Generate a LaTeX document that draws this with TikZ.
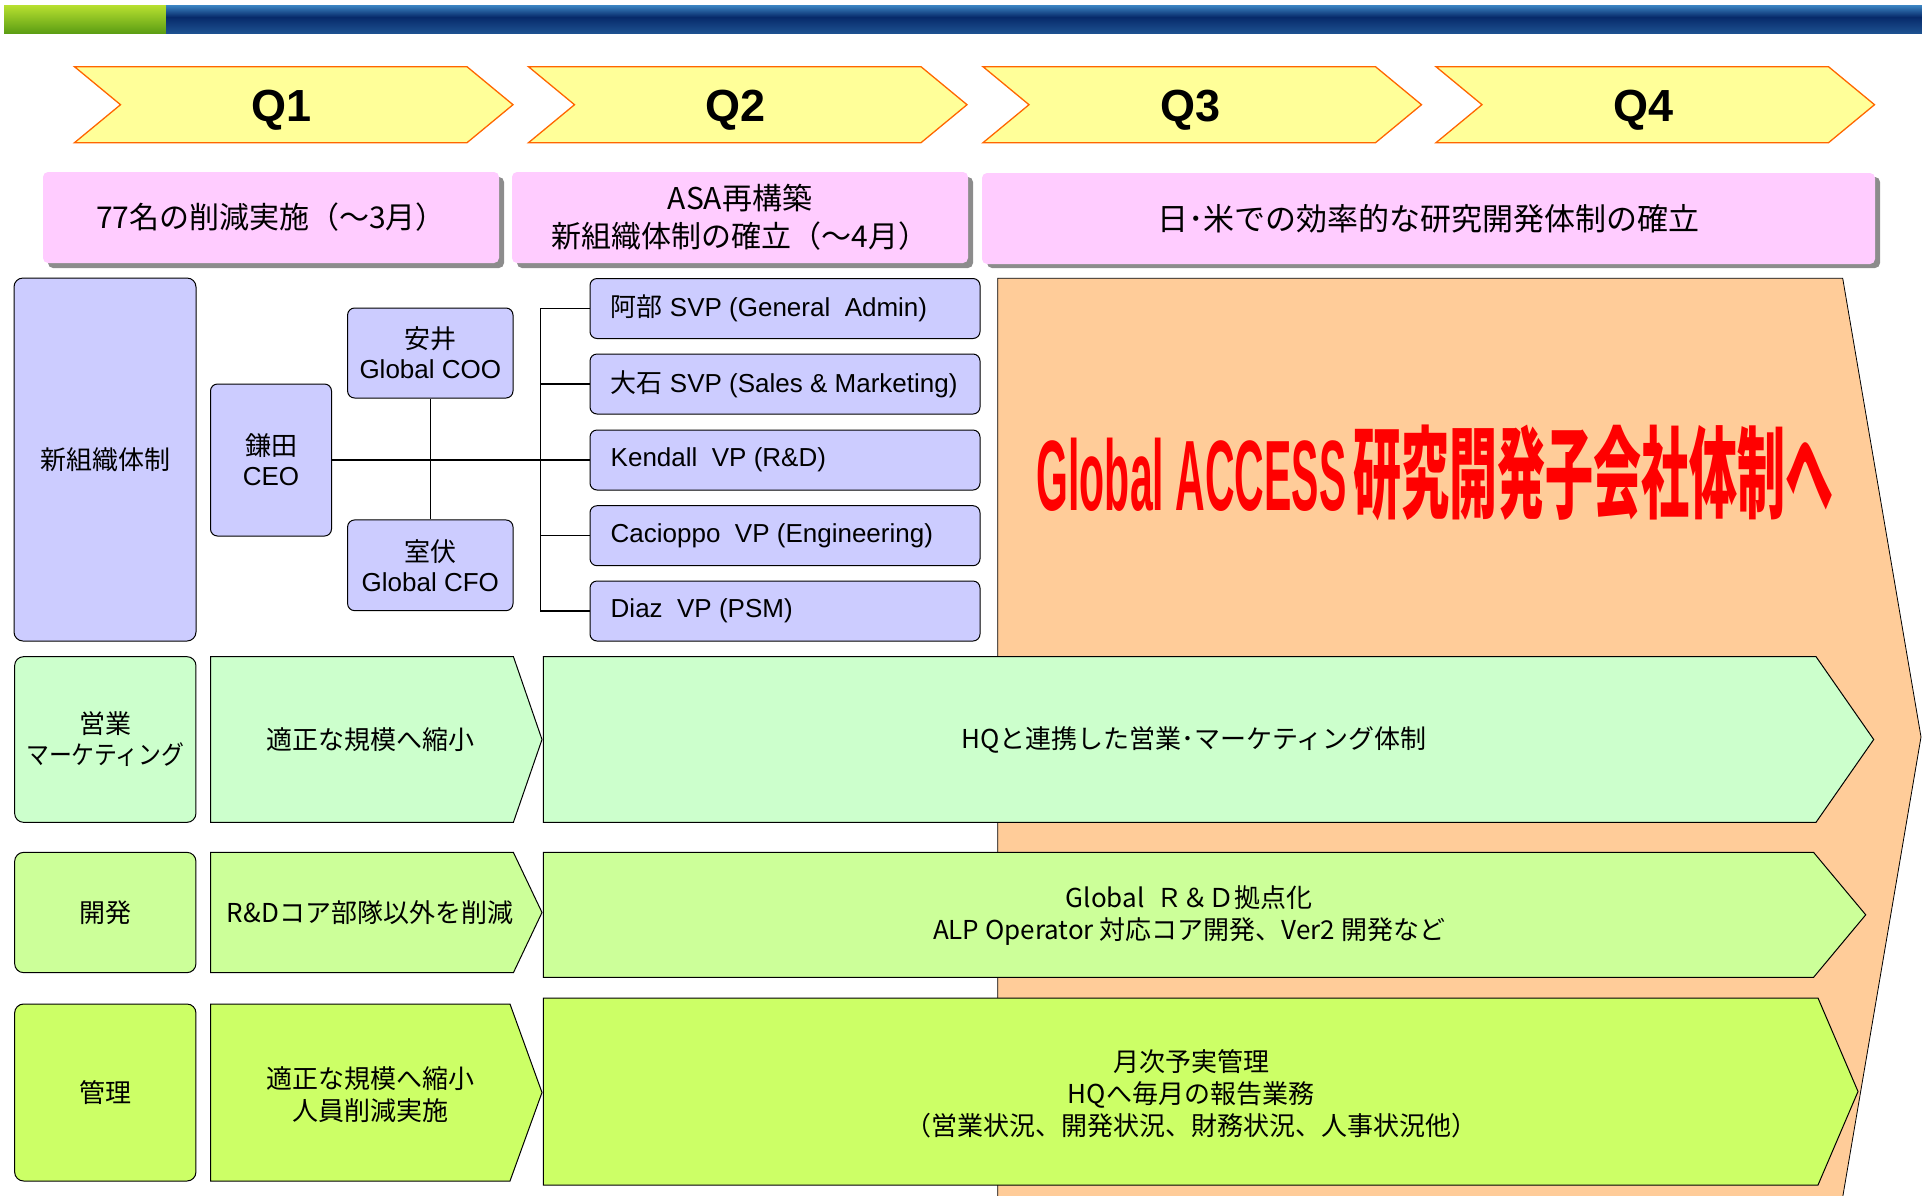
\documentclass[tikz,border=0pt]{standalone}
\usepackage{fontspec}
\usepackage{graphicx}
\setmainfont{Liberation Sans}
\newfontfamily\J{Noto Sans CJK JP}
\definecolor{qyellow}{HTML}{FFFF99}
\definecolor{qorange}{HTML}{FF6600}
\definecolor{pinkc}{HTML}{FFCCFF}
\definecolor{shadowc}{HTML}{8C8C8C}
\definecolor{lav}{HTML}{CCCCFF}
\definecolor{gA}{HTML}{CCFFCC}
\definecolor{gB}{HTML}{CCFF99}
\definecolor{gC}{HTML}{CCFF66}
\definecolor{orangec}{HTML}{FFCC99}
\definecolor{barg1}{HTML}{B8E030}
\definecolor{barg2}{HTML}{5C9E14}
\definecolor{barb1}{HTML}{3C86C4}
\definecolor{barb2}{HTML}{072A6A}
\definecolor{barb3}{HTML}{1D5190}
\newcommand\qchevron[3]{%
  \draw[qchev] (#1,66.7) -- (#1+392.5,66.7) -- (#1+438.5,104.7) -- (#1+392.5,142.7) -- (#1,142.7) -- (#1+46,104.7) -- cycle;
  \node[qlabel] (#2) at (#1+207,110) {#3};}
\begin{document}
\begin{tikzpicture}[x=1pt,y=-1pt,
  qchev/.style={fill=qyellow, draw=qorange, line width=1.3pt, line join=miter},
  qlabel/.style={font=\bfseries\fontsize{45}{50}\selectfont, inner sep=0pt},
  pinkbox/.style={fill=pinkc, rounded corners=5pt, inner sep=0pt, align=center, font={\J\fontsize{30}{38}\selectfont}},
  shadowbox/.style={fill=shadowc, rounded corners=5pt},
  labelbox/.style={draw=black, line width=1pt, rounded corners=9pt, inner sep=0pt, align=center, font={\J\fontsize{26}{31}\selectfont}},
  orgbox/.style={draw=black, line width=1pt, rounded corners=7pt, fill=lav, inner sep=0pt, align=center, font=\fontsize{26}{30}\selectfont},
  vpbox/.style={orgbox, minimum width=390pt, minimum height=60pt},
  vptext/.style={anchor=west, inner sep=0pt, font=\fontsize{26}{30}\selectfont},
  arrowshape/.style={draw=black, line width=1pt, line join=miter},
  lowtext/.style={inner sep=0pt, align=center, font={\J\fontsize{26}{32}\selectfont}},
  conn/.style={draw=black, line width=1.1pt}]
\useasboundingbox (0,0) rectangle (1922,1195);
\clip (0,0) rectangle (1922,1195);
% top bar
\shade[top color=barg1, bottom color=barg2] (4,5) rectangle (166,33);
\shade[top color=barb1, bottom color=barb2] (166,5) rectangle (1922,17);
\shade[top color=barb2, bottom color=barb3] (166,17) rectangle (1922,33);
% quarter chevrons
\qchevron{74.5}{q1}{Q1}
\qchevron{528.5}{q2}{Q2}
\qchevron{983}{q3}{Q3}
\qchevron{1436}{q4}{Q4}
% pink boxes with shadows
\fill[shadowbox] (48,177) rectangle (504,268);
\fill[shadowbox] (517,177) rectangle (973,268);
\fill[shadowbox] (987,177) rectangle (1880,268);
\node[pinkbox, minimum width=456pt, minimum height=91pt] (p1) at (271,217.5) {77名の削減実施（～3月）};
\node[pinkbox, minimum width=456pt, minimum height=91pt] (p2) at (740,217.5) {ASA再構築\\新組織体制の確立（～4月）};
\node[pinkbox, minimum width=893pt, minimum height=91pt, font={\J\fontsize{31}{38}\selectfont}] (p3) at (1428.5,218.5) {日･米での効率的な研究開発体制の確立};
% orange target shape
\draw[fill=orangec, draw=black, line width=0.8pt, line join=miter] (997.7,278.3) -- (1842.7,278.3) -- (1921,737) -- (1842.7,1197) -- (997.7,1197) -- cycle;
\node[anchor=base, text=red, inner sep=0pt] (gt) at (1435,510) {\fontsize{100}{100}\selectfont\bfseries\scalebox{0.41}[1]{Global ACCESS}\hspace{7pt}\scalebox{0.48}[1]{\J\bfseries 研究開発子会社体制へ}};
% organisation
\node[labelbox, fill=lav, minimum width=182pt, minimum height=363pt] (org) at (105,459.5) {新組織体制};
\node[orgbox, minimum width=121pt, minimum height=152pt] (ceo) at (271,460) {{\J 鎌田}\\CEO};
\node[orgbox, minimum width=165.4pt, minimum height=90pt] (coo) at (430.3,353) {{\J 安井}\\Global COO};
\node[orgbox, minimum width=165.4pt, minimum height=90.7pt] (cfo) at (430.3,565.3) {{\J 室伏}\\Global CFO};
\node[vpbox] (vp1) at (785,308.5) {};
\node[vpbox] (vp2) at (785,384) {};
\node[vpbox] (vp3) at (785,460) {};
\node[vpbox] (vp4) at (785,535.7) {};
\node[vpbox] (vp5) at (785,611) {};
\node[vptext] (vp1t) at ([xshift=21pt]vp1.west) {{\J 阿部} SVP (General\ \ Admin)};
\node[vptext] (vp2t) at ([xshift=21pt]vp2.west) {{\J 大石} SVP (Sales \& Marketing)};
\node[vptext] (vp3t) at ([xshift=21pt]vp3.west) {Kendall\ \ VP (R\&D)};
\node[vptext] (vp4t) at ([xshift=21pt]vp4.west) {Cacioppo\ \ VP (Engineering)};
\node[vptext] (vp5t) at ([xshift=21pt]vp5.west) {Diaz\ \ VP (PSM)};
\draw[conn] (ceo.east) -- (vp3.west);
\draw[conn] (coo.south) -- (cfo.north);
\draw[conn] (vp1.west) -- ++(-49,0) |- (vp5.west);
\draw[conn] (vp2.west) -- ++(-49,0);
\draw[conn] (vp4.west) -- ++(-49,0);
% row 1: sales & marketing
\node[labelbox, fill=gA, minimum width=181.3pt, minimum height=165.7pt] (l1) at (105.3,739.5) {営業\\\scalebox{0.88}[1]{マーケティング}};
\draw[arrowshape, fill=gA] (210.5,656.6) -- (513.4,656.6) -- (542,739.5) -- (513.4,822.3) -- (210.5,822.3) -- cycle;
\node[lowtext] (m1) at (370,740) {適正な規模へ縮小};
\draw[arrowshape, fill=gA] (543.4,656.6) -- (1816,656.6) -- (1873.7,739.5) -- (1816,822.3) -- (543.4,822.3) -- cycle;
\node[lowtext] (b1) at (1194,739.5) {HQと連携した営業･マーケティング体制};
% row 2: development
\node[labelbox, fill=gB, minimum width=181.3pt, minimum height=120.3pt] (l2) at (105.3,912.5) {開発};
\draw[arrowshape, fill=gB] (210.5,852.4) -- (513.4,852.4) -- (542,912.5) -- (513.4,972.7) -- (210.5,972.7) -- cycle;
\node[lowtext] (m2) at (370,913) {R\&Dコア部隊以外を削減};
\draw[arrowshape, fill=gB] (543.4,852.4) -- (1813.6,852.4) -- (1865.7,914.8) -- (1813.6,977.3) -- (543.4,977.3) -- cycle;
\node[lowtext] (b2) at (1189,916) {Global\ \ {\J Ｒ＆Ｄ拠点化}\\ALP Operator {\J 対応コア開発、}Ver2 {\J 開発など}};
% row 3: administration
\node[labelbox, fill=gC, minimum width=181.3pt, minimum height=177pt] (l3) at (105.3,1092.5) {管理};
\draw[arrowshape, fill=gC] (210.5,1004) -- (510,1004) -- (542,1092.5) -- (510,1181) -- (210.5,1181) -- cycle;
\node[lowtext] (m3) at (370,1095) {適正な規模へ縮小\\人員削減実施};
\draw[arrowshape, fill=gC] (543.4,998) -- (1818,998) -- (1858,1091.5) -- (1818,1185) -- (543.4,1185) -- cycle;
\node[lowtext] (b3) at (1191,1094) {月次予実管理\\HQへ毎月の報告業務\\（営業状況、開発状況、財務状況、人事状況他）};
\end{tikzpicture}
\end{document}
